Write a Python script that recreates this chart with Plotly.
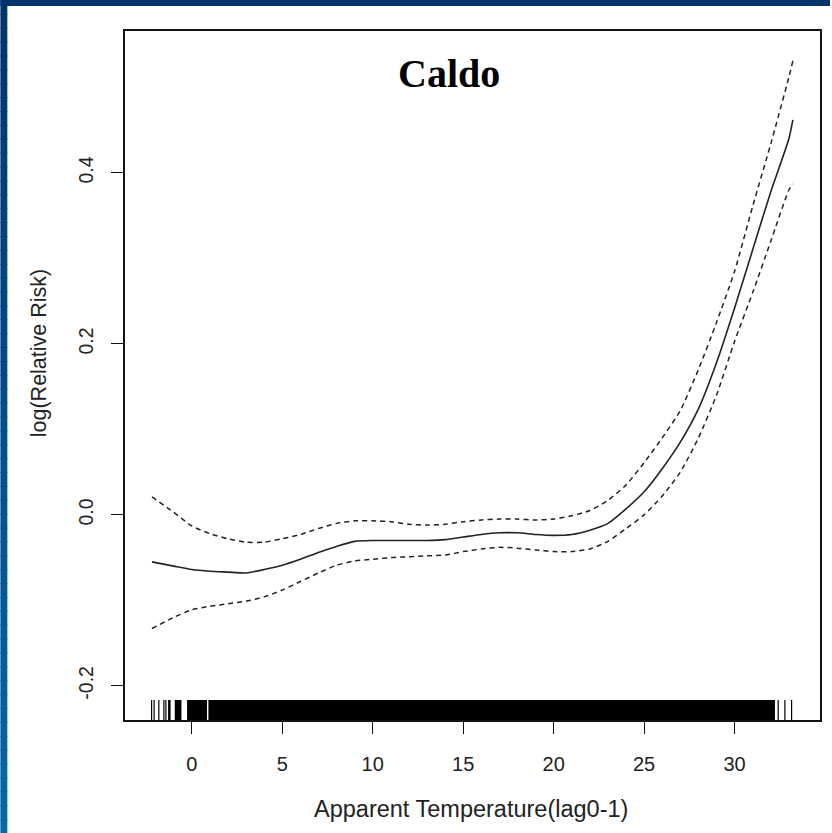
import plotly.graph_objects as go

# ---- data ----
temperature = [-2.2, -1, 0, 1, 2, 3, 4, 5, 6, 7, 8, 9, 10, 11, 12, 13, 14, 15, 16, 17,
               18, 19, 20, 21, 22, 23, 24, 25, 26, 27, 28, 29, 30, 31, 32, 33, 33.22]
log_rr = [-0.055, -0.060, -0.064, -0.066, -0.067, -0.068, -0.064, -0.059, -0.052, -0.044,
          -0.037, -0.031, -0.030, -0.030, -0.030, -0.030, -0.029, -0.026, -0.023, -0.021,
          -0.021, -0.023, -0.024, -0.023, -0.018, -0.010, 0.007, 0.027, 0.054, 0.085,
          0.124, 0.178, 0.242, 0.310, 0.378, 0.440, 0.462]
upper_ci = [0.021, 0.003, -0.013, -0.022, -0.028, -0.032, -0.032, -0.028, -0.023, -0.016,
            -0.010, -0.007, -0.007, -0.008, -0.011, -0.012, -0.011, -0.008, -0.006, -0.005,
            -0.005, -0.006, -0.005, -0.001, 0.005, 0.017, 0.035, 0.061, 0.090, 0.122,
            0.170, 0.225, 0.285, 0.361, 0.434, 0.512, 0.531]
lower_ci = [-0.133, -0.120, -0.111, -0.107, -0.104, -0.101, -0.096, -0.088, -0.078, -0.068,
            -0.059, -0.054, -0.052, -0.050, -0.049, -0.048, -0.047, -0.043, -0.040, -0.038,
            -0.039, -0.041, -0.043, -0.043, -0.040, -0.031, -0.016, 0.000, 0.022, 0.050,
            0.090, 0.140, 0.203, 0.260, 0.320, 0.380, 0.387]

# rug: isolated observations and densely covered temperature ranges
rug_single = [-2.22, -2.08, -1.82, -1.54, -1.43, 32.41, 32.78, 33.15]
rug_blocks = [(-1.31, -1.17), (-0.94, -0.57), (-0.26, 0.84), (0.92, 32.23)]

x_ticks = [0, 5, 10, 15, 20, 25, 30]
y_ticks = [-0.2, 0.0, 0.2, 0.4]
y_tick_labels = ["-0.2", "0.0", "0.2", "0.4"]

title_text = "Caldo"
x_title = "Apparent Temperature(lag0-1)"
y_title = "log(Relative Risk)"

# ---- figure ----
W, H = 832, 833
L, R, T, B = 125, 10, 31, 113
PW, PH = W - L - R, H - T - B

def px_x(p):
    return (p - L) / PW

def px_y(p):
    return (H - B - p) / PH

ink = "#222222"
fig = go.Figure()

fig.add_trace(go.Scatter(x=temperature, y=upper_ci, mode="lines",
                         line=dict(color=ink, width=1.5, dash="5px,4px", shape="spline", smoothing=0.6),
                         hoverinfo="skip"))
fig.add_trace(go.Scatter(x=temperature, y=lower_ci, mode="lines",
                         line=dict(color=ink, width=1.5, dash="5px,4px", shape="spline", smoothing=0.6),
                         hoverinfo="skip"))
fig.add_trace(go.Scatter(x=temperature, y=log_rr, mode="lines",
                         line=dict(color=ink, width=1.6, shape="spline", smoothing=0.6),
                         hoverinfo="skip"))

shapes = []
rug_h = 20 / PH
for v in rug_single:
    shapes.append(dict(type="line", xref="x", yref="y domain", x0=v, x1=v, y0=0, y1=rug_h,
                       line=dict(color="black", width=1.2)))
for a, b in rug_blocks:
    shapes.append(dict(type="rect", xref="x", yref="y domain", x0=a, x1=b, y0=0, y1=rug_h,
                       fillcolor="black", line=dict(width=0)))

# blue slide border: dark top band, vertical gradient on the left band
top_col = (3, 51, 107)
bot_col = (6, 102, 170)
shapes.append(dict(type="rect", xref="paper", yref="paper", x0=px_x(0), x1=px_x(W),
                   y0=px_y(6), y1=px_y(0), fillcolor="rgb(3,51,107)", line=dict(width=0),
                   layer="above"))
n = 60
for i in range(n):
    f = i / (n - 1)
    c = tuple(round(top_col[k] + (bot_col[k] - top_col[k]) * f) for k in range(3))
    y0p = i * H / n
    y1p = (i + 1) * H / n + 1
    shapes.append(dict(type="rect", xref="paper", yref="paper", x0=px_x(0), x1=px_x(7),
                       y0=px_y(y1p), y1=px_y(y0p), fillcolor="rgb(%d,%d,%d)" % c,
                       line=dict(width=0), layer="above"))

annotations = [
    dict(text=title_text, xref="paper", yref="paper", x=px_x(450), y=px_y(73),
         xanchor="center", yanchor="middle", showarrow=False,
         font=dict(family="Liberation Serif", size=40, color="black", weight="bold")),
    dict(text=x_title, xref="paper", yref="paper", x=px_x(472), y=px_y(809),
         xanchor="center", yanchor="middle", showarrow=False,
         font=dict(family="Liberation Sans", size=23.5, color=ink)),
    dict(text=y_title, xref="paper", yref="paper", x=px_x(39), y=px_y(353),
         xanchor="center", yanchor="middle", showarrow=False, textangle=-90,
         font=dict(family="Liberation Sans", size=21.5, color=ink)),
]

axis_common = dict(showline=True, mirror=True, linecolor="#111111", linewidth=1.8,
                   ticks="outside", ticklen=12, tickwidth=1.4, tickcolor="#111111",
                   showgrid=False, zeroline=False)

fig.update_layout(
    width=W, height=H, margin=dict(l=L, r=R, t=T, b=B),
    paper_bgcolor="white", plot_bgcolor="white", showlegend=False,
    xaxis=dict(range=[-3.69, 34.72], tickvals=x_ticks, ticklabelstandoff=13,
               tickfont=dict(family="Liberation Sans", size=20, color=ink), **axis_common),
    yaxis=dict(range=[-0.240, 0.566], tickvals=y_ticks, ticktext=y_tick_labels,
               tickangle=-90, ticklabelstandoff=10,
               tickfont=dict(family="Liberation Sans", size=19.5, color=ink), **axis_common),
    shapes=shapes, annotations=annotations,
)

fig.write_html("out.html")
